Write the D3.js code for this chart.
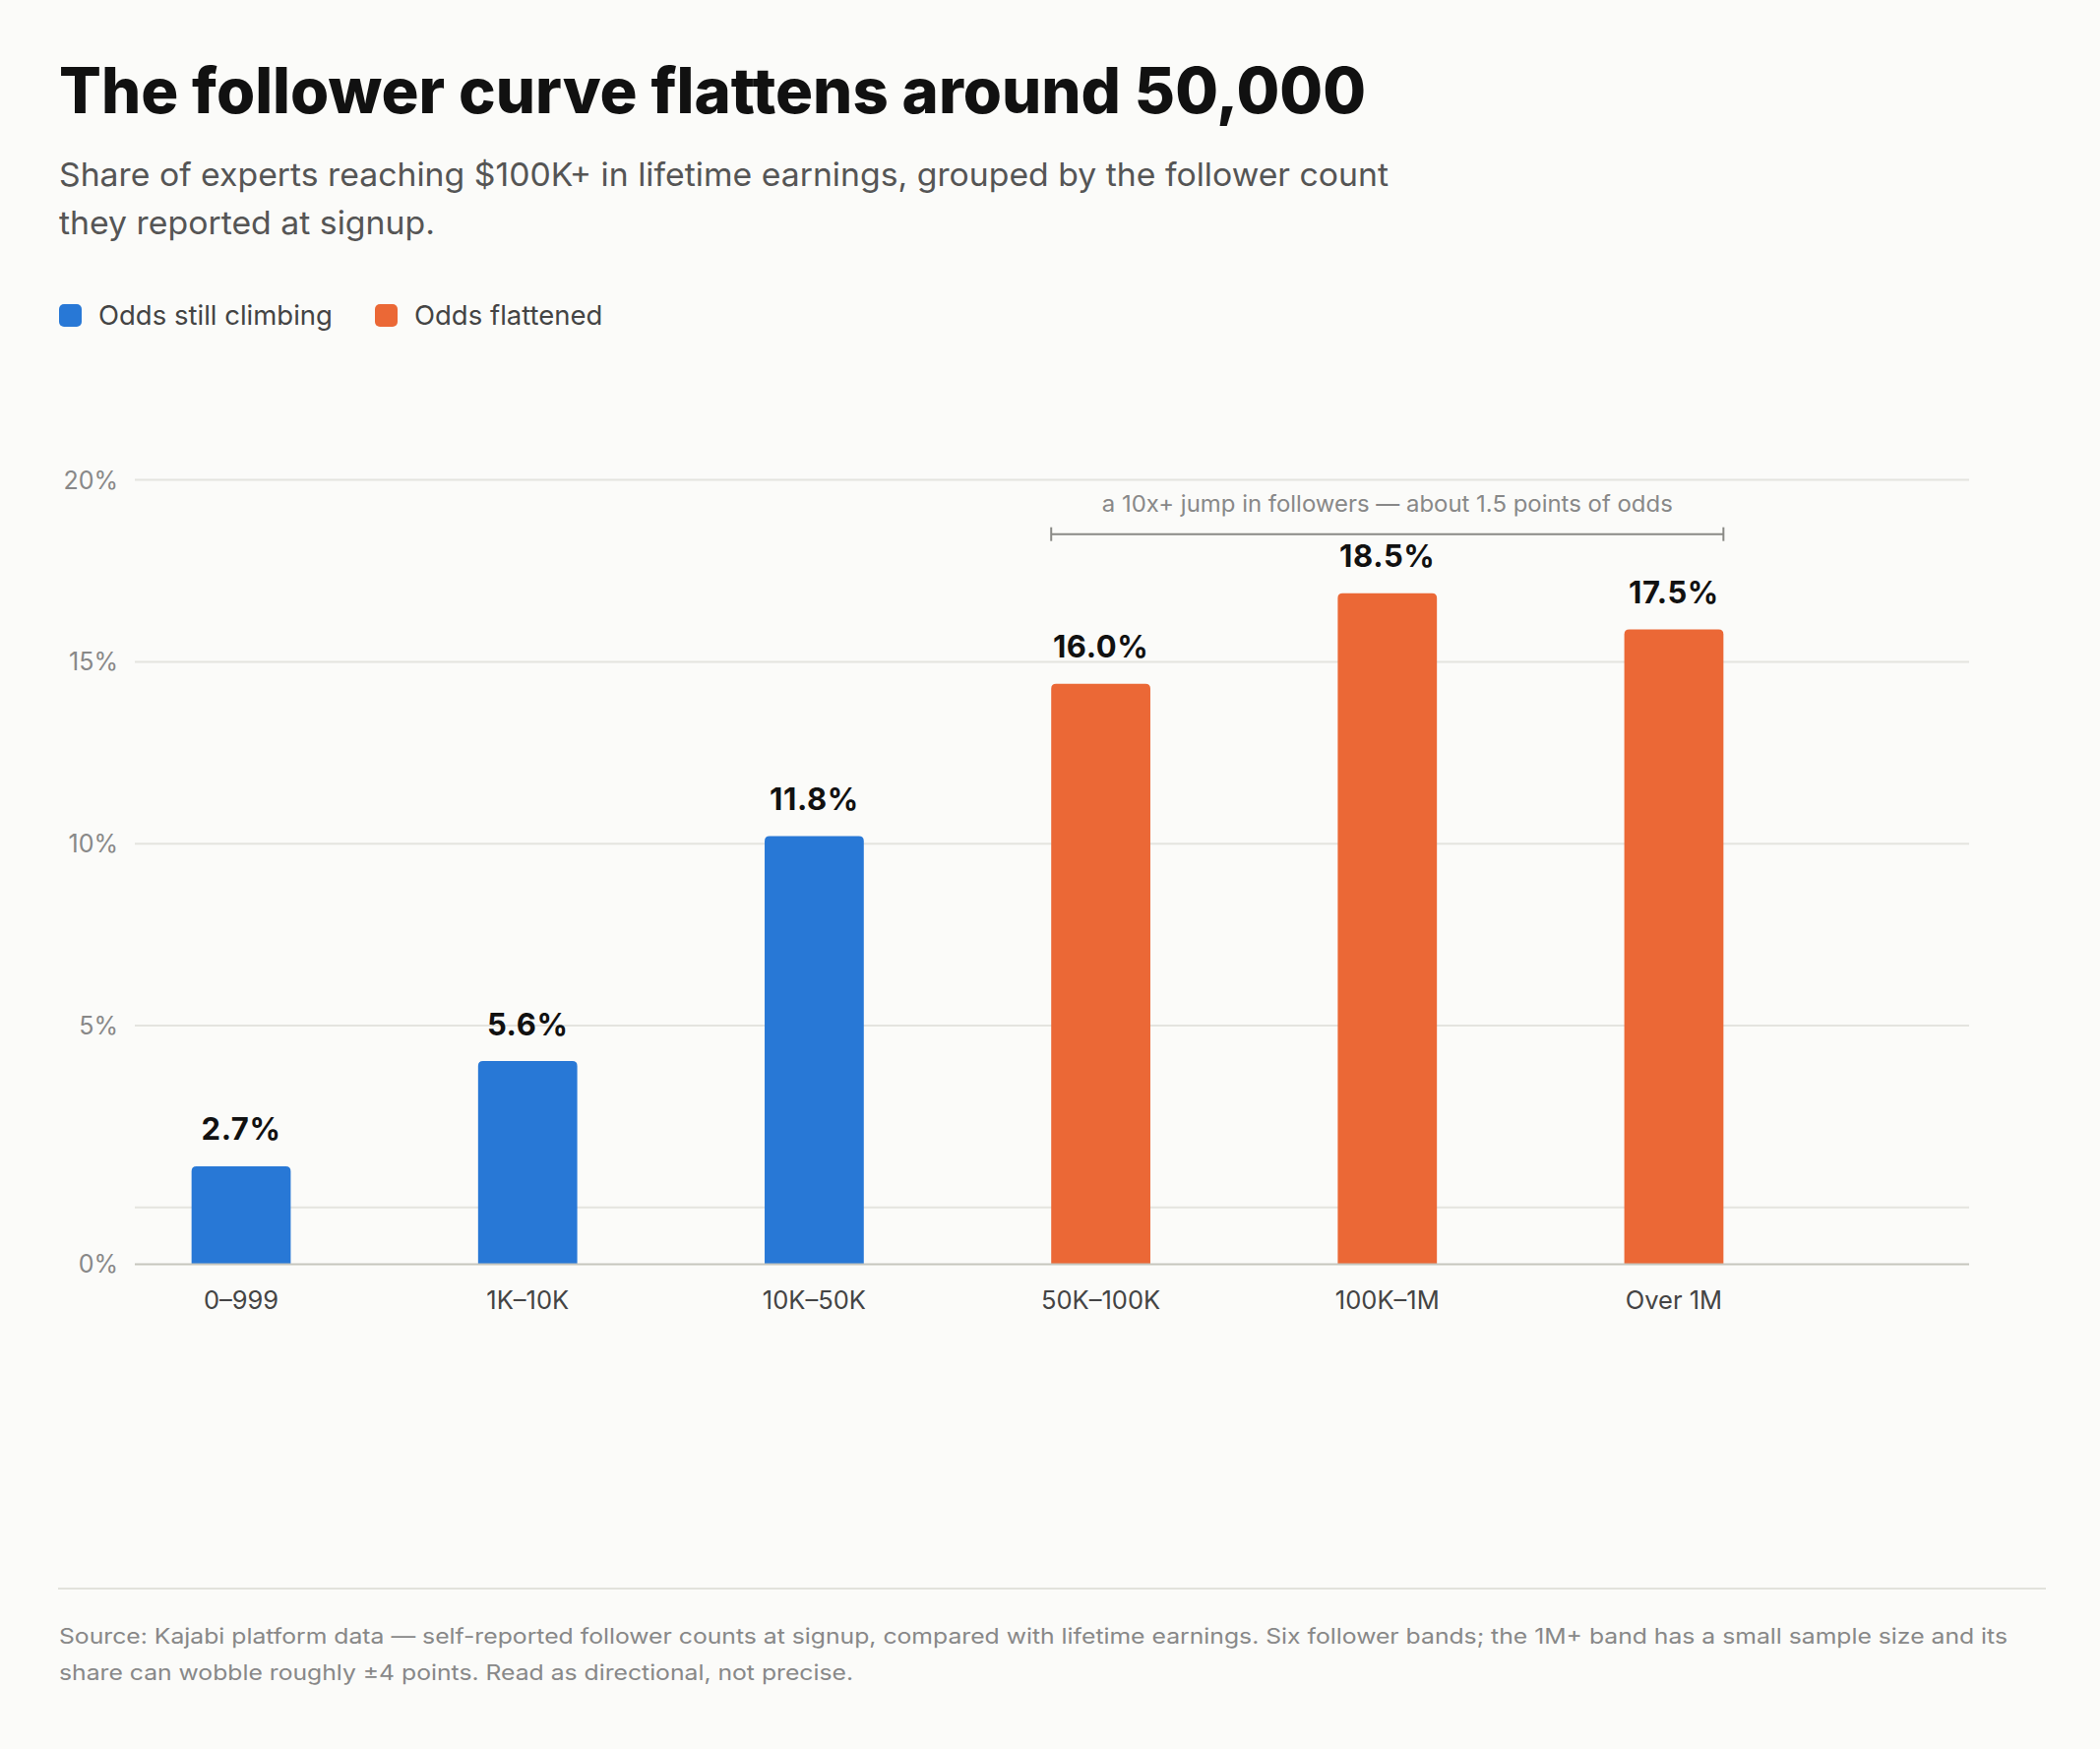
<!DOCTYPE html>
<html>
<head>
<meta charset="utf-8">
<script src="https://cdn.jsdelivr.net/npm/d3@7"></script>
<style>
  html, body { margin: 0; padding: 0; background: #FBFBF9; }
  svg { display: block; font-family: Inter, "Noto Sans", sans-serif; }
</style>
</head>
<body>
<svg id="chart" width="2134" height="1777"></svg>
<script>
// ---- data ----
const categories = ["0\u2013999", "1K\u201310K", "10K\u201350K", "50K\u2013100K", "100K\u20131M", "Over 1M"];
const shares = [2.7, 5.6, 11.8, 16.0, 18.5, 17.5];
const groups = ["climbing", "climbing", "climbing", "flattened", "flattened", "flattened"];
const legendLabels = ["Odds still climbing", "Odds flattened"];
const yTicks = [0, 5, 10, 15, 20];
const titleText = "The follower curve flattens around 50,000";
const subtitleLines = ["Share of experts reaching $100K+ in lifetime earnings, grouped by the follower count", "they reported at signup."];
const annotationText = "a 10x+ jump in followers \u2014 about 1.5 points of odds";
const footerLines = ["Source: Kajabi platform data \u2014 self-reported follower counts at signup, compared with lifetime earnings. Six follower bands; the 1M+ band has a small sample size and its", "share can wobble roughly \u00b14 points. Read as directional, not precise."];

// ---- style ----
const colors = { climbing: "#2878D6", flattened: "#EB6836" };
const svg = d3.select("#chart");
svg.append("rect").attr("width", 2134).attr("height", 1777).attr("fill", "#FBFBF9");

// title & subtitle
svg.append("text").attr("x", 60).attr("y", 115)
  .attr("font-size", 64).attr("font-weight", 800).attr("fill", "#111")
  .attr("textLength", 1328).attr("lengthAdjust", "spacingAndGlyphs")
  .text(titleText);
const subW = [1351, 382];
svg.append("g").selectAll("text").data(subtitleLines).join("text")
  .attr("x", 60).attr("y", (d, i) => 189 + i * 49)
  .attr("font-size", 33).attr("fill", "#555")
  .attr("textLength", (d, i) => subW[i]).attr("lengthAdjust", "spacingAndGlyphs")
  .text(d => d);

// legend
const legendX = [60, 381];
const lg = svg.append("g").selectAll("g").data(legendLabels).join("g")
  .attr("transform", (d, i) => `translate(${legendX[i]},309)`);
lg.append("rect").attr("width", 23).attr("height", 23).attr("rx", 5)
  .attr("fill", (d, i) => i === 0 ? colors.climbing : colors.flattened);
lg.append("text").attr("x", 40).attr("y", 21).attr("font-size", 27.5).attr("fill", "#444").text(d => d);

// scales
const plotLeft = 137, plotRight = 2001, baseY = 1284.4;
const x = d3.scaleBand().domain(categories).range([plotLeft, 1809]).paddingInner(0.654).paddingOuter(0.198);
const yBar = d3.scaleLinear().domain([0, 20]).range([baseY, baseY - 20 * 36.85]);
const yGrid = d3.scaleLinear().domain([0, 20]).range([1226.8, 487.6]);

// gridlines
svg.append("g").selectAll("line").data(yTicks).join("line")
  .attr("x1", plotLeft).attr("x2", plotRight)
  .attr("y1", d => yGrid(d)).attr("y2", d => yGrid(d))
  .attr("stroke", "#E4E4DF").attr("stroke-width", 2);
// y tick labels
svg.append("g").selectAll("text").data(yTicks).join("text")
  .attr("x", 120).attr("y", d => d === 0 ? yBar(0) : yGrid(d))
  .attr("dy", "0.36em").attr("text-anchor", "end")
  .attr("font-size", 25).attr("fill", "#888")
  .text(d => d + "%");

// bars
function roundTop(x0, y0, w, h, r) {
  r = Math.min(r, h);
  return `M${x0},${y0 + h}V${y0 + r}Q${x0},${y0} ${x0 + r},${y0}H${x0 + w - r}Q${x0 + w},${y0} ${x0 + w},${y0 + r}V${y0 + h}Z`;
}
const data = categories.map((c, i) => ({ c, v: shares[i], g: groups[i] }));
svg.append("g").selectAll("path").data(data).join("path")
  .attr("d", d => roundTop(x(d.c), yBar(d.v), x.bandwidth(), yBar(0) - yBar(d.v), 5))
  .attr("fill", d => colors[d.g]);

// baseline
svg.append("line").attr("x1", plotLeft).attr("x2", plotRight).attr("y1", baseY).attr("y2", baseY)
  .attr("stroke", "#C6C6BE").attr("stroke-width", 2);

// value labels
svg.append("g").selectAll("text").data(data).join("text")
  .attr("x", d => x(d.c) + x.bandwidth() / 2).attr("y", d => yBar(d.v) - 26.5)
  .attr("text-anchor", "middle").attr("font-size", 31).attr("font-weight", 700).attr("fill", "#111")
  .attr("letter-spacing", 0.6)
  .text(d => d.v.toFixed(1) + "%");

// x axis labels
const xAxis = svg.append("g").attr("transform", `translate(0,${baseY})`)
  .call(d3.axisBottom(x).tickSize(0).tickPadding(0));
xAxis.select(".domain").remove();
xAxis.selectAll("text").attr("y", 46).attr("dy", 0)
  .attr("font-size", 25.5).attr("fill", "#444").attr("font-family", "Inter, 'Noto Sans', sans-serif");

// annotation bracket
const bx1 = x(categories[3]), bx2 = x(categories[5]) + x.bandwidth();
const by = 542.7;
const ann = svg.append("g").attr("stroke", "#8A8A86").attr("stroke-width", 2);
ann.append("line").attr("x1", bx1).attr("x2", bx2).attr("y1", by).attr("y2", by);
ann.append("line").attr("x1", bx1).attr("x2", bx1).attr("y1", by - 7).attr("y2", by + 7);
ann.append("line").attr("x1", bx2).attr("x2", bx2).attr("y1", by - 7).attr("y2", by + 7);
svg.append("text").attr("x", (bx1 + bx2) / 2).attr("y", 520).attr("text-anchor", "middle")
  .attr("font-size", 23).attr("fill", "#888")
  .attr("textLength", 580).attr("lengthAdjust", "spacingAndGlyphs")
  .text(annotationText);

// footer
svg.append("line").attr("x1", 59).attr("x2", 2079).attr("y1", 1614).attr("y2", 1614)
  .attr("stroke", "#E2E2DC").attr("stroke-width", 2);
const footW = [1980, 807];
svg.append("g").selectAll("text").data(footerLines).join("text")
  .attr("x", 60).attr("y", (d, i) => 1670 + i * 37)
  .attr("font-size", 21.5).attr("fill", "#888")
  .attr("textLength", (d, i) => footW[i]).attr("lengthAdjust", "spacingAndGlyphs")
  .text(d => d);
</script>
</body>
</html>
